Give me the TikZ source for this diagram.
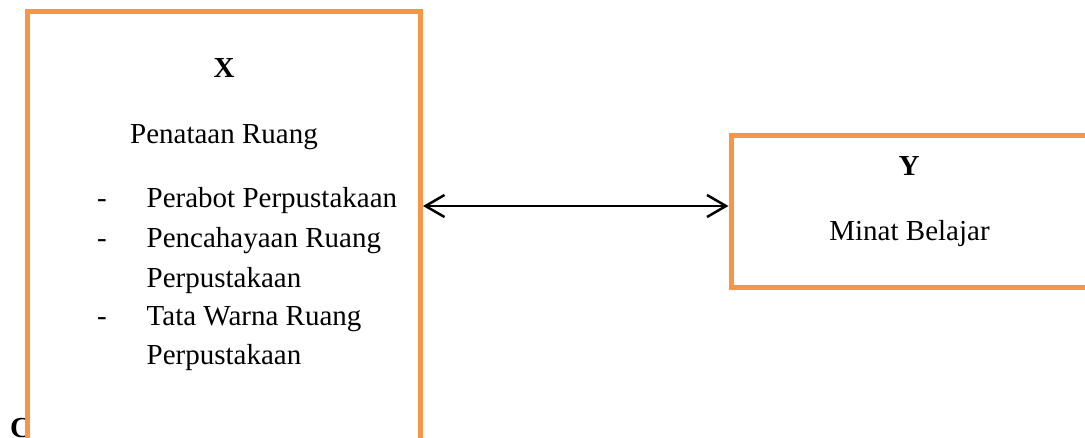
\documentclass[tikz,border=0pt]{standalone}
\usepackage{fontspec}
\setmainfont{Liberation Serif}
\usetikzlibrary{arrows.meta}
\definecolor{boxorange}{RGB}{247,150,70}
\tikzset{
  box/.style={draw=boxorange, line width=5pt, rectangle, inner sep=0pt},
  txt/.style={inner sep=0pt, anchor=base, font=\fontsize{29}{34}\selectfont},
  txtl/.style={txt, anchor=base west},
  ttl/.style={txt, font=\fontsize{29}{34}\selectfont\bfseries},
  arr/.style={line width=2.5pt, {Straight Barb[length=19pt,width=22pt,line width=2.5pt]}-{Straight Barb[length=19pt,width=22pt,line width=2.5pt]}}
}
\begin{document}
\begin{tikzpicture}[x=1pt,y=1pt]
\useasboundingbox (0,0) rectangle (1085,-437);
\clip (0,0) rectangle (1085,-437);
\node[ttl, anchor=base west] (c) at (10,-437.5) {C};
\node[box, minimum width=393pt, minimum height=448.5pt] (xbox) at (224,-235.75) {};
\node[box, minimum width=364pt, minimum height=152pt] (ybox) at (913,-211.5) {};
\node[ttl] (xt) at (224,-77) {X};
\node[txt] (pr) at (224,-143) {Penataan Ruang};
\node[txtl] (d1) at (97,-207) {-};
\node[txtl] (d2) at (97,-247) {-};
\node[txtl] (d3) at (97,-325) {-};
\node[txtl] (i1) at (146.5,-207) {Perabot Perpustakaan};
\node[txtl] (i2) at (146.5,-247) {Pencahayaan Ruang};
\node[txtl] (i2b) at (146.5,-287) {Perpustakaan};
\node[txtl] (i3) at (146.5,-325) {Tata Warna Ruang};
\node[txtl] (i3b) at (146.5,-364) {Perpustakaan};
\node[ttl] (yt) at (909,-175) {Y};
\node[txt] (mb) at (909.5,-240) {Minat Belajar};
\draw[arr] ([yshift=5.5pt]ybox.west -| xbox.east) -- ([yshift=5.5pt]ybox.west);
\end{tikzpicture}
\end{document}
